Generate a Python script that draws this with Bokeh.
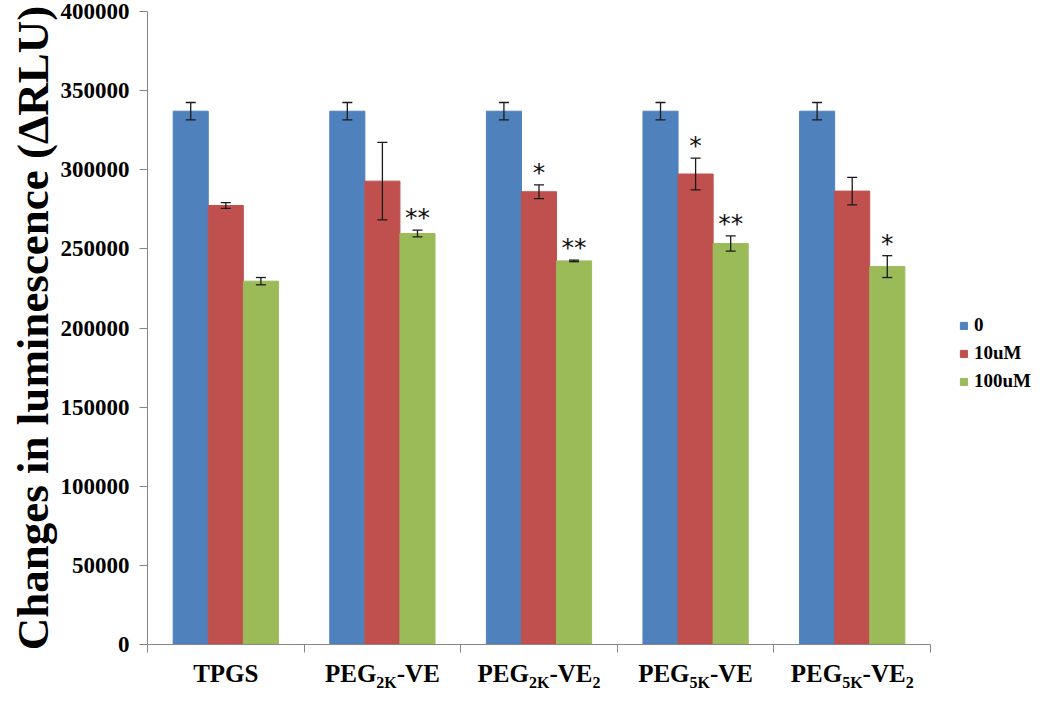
from bokeh.plotting import figure
from bokeh.models import (ColumnDataSource, Range1d, LinearAxis, FixedTicker,
                          Whisker, TeeHead, Legend, LegendItem, BasicTickFormatter)
from bokeh.transform import dodge
from bokeh.core.properties import value
from bokeh.embed import file_html
from bokeh.resources import INLINE

# ---------------- data ----------------
categories = ["TPGS", "PEG2K-VE", "PEG2K-VE2", "PEG5K-VE", "PEG5K-VE2"]
# category label pieces: (text, is_subscript)
label_parts = [
    [("TPGS", 0)],
    [("PEG", 0), ("2K", 1), ("-VE", 0)],
    [("PEG", 0), ("2K", 1), ("-VE", 0), ("2", 1)],
    [("PEG", 0), ("5K", 1), ("-VE", 0)],
    [("PEG", 0), ("5K", 1), ("-VE", 0), ("2", 1)],
]
series_names = ["0", "10uM", "100uM"]
vals_0 = [337000, 337000, 337000, 337000, 337000]
err_0 = [5500, 5500, 5500, 5500, 5500]
vals_10 = [277400, 292800, 286100, 297300, 286500]
err_10 = [1800, 24500, 4300, 10000, 8700]
vals_100 = [229600, 259700, 242400, 253400, 238800]
err_100 = [2300, 2100, 500, 4800, 6900]
sig_0 = ["", "", "", "", ""]
sig_10 = ["", "", "*", "*", ""]
sig_100 = ["", "**", "**", "**", "*"]
y_ticks = [0, 50000, 100000, 150000, 200000, 250000, 300000, 350000, 400000]

colors = ["#4F81BD", "#C0504D", "#9BBB59"]
bar_w = 0.224
offsets = [-bar_w, 0.0, bar_w]
SERIF = "Liberation Serif"
AXIS_GREY = "#868686"
n = len(categories)
cat_pos = [i + 0.5 for i in range(n)]   # category centres on a 0..n axis

W, H = 1034, 693
BL, BT, BB = 147, 11, 40
AXIS_PX = 783                      # pixel length of the category axis
px_per_unit = AXIS_PX / n
x_end = (W - BL) / px_per_unit     # frame runs to the right edge (legend lives there)

p = figure(x_range=Range1d(0, x_end), y_range=Range1d(0, 400000),
           width=W, height=H, output_backend="svg", toolbar_location=None,
           x_axis_location=None,
           min_border_left=BL, min_border_right=0, min_border_top=BT, min_border_bottom=BB)
p.outline_line_color = None
p.xgrid.grid_line_color = None
p.ygrid.grid_line_color = None
p.background_fill_color = "white"

# y axis styling
ya = p.yaxis[0]
ya.ticker = FixedTicker(ticks=y_ticks)
ya.formatter = BasicTickFormatter(use_scientific=False)
ya.axis_line_color = AXIS_GREY
ya.major_tick_line_color = AXIS_GREY
ya.major_tick_in = 0
ya.major_tick_out = 8
ya.minor_tick_line_color = None
ya.major_label_text_font = SERIF
ya.major_label_text_font_style = "bold"
ya.major_label_text_font_size = "23px"
ya.major_label_text_color = "black"
ya.major_label_standoff = 10
ya.axis_label = "Changes in luminescence (\u0394RLU)"
ya.axis_label_text_font = SERIF
ya.axis_label_text_font_style = "bold"
ya.axis_label_text_font_size = "45px"
ya.axis_label_text_color = "black"
ya.axis_label_standoff = 0

# ---- category labels (main text + subscripts) placed as axis tick labels ----
adv = {"P": 0.611, "E": 0.667, "G": 0.778, "T": 0.667, "S": 0.556, "V": 0.722,
       "K": 0.778, "2": 0.5, "5": 0.5, "-": 0.333}
main_fs, sub_fs = 25, 16
main_ticks, main_texts, sub_ticks, sub_texts = [], [], [], []
for i, parts in enumerate(label_parts):
    widths = [sum(adv[c] for c in t) * (sub_fs if s else main_fs) for t, s in parts]
    xo = -sum(widths) / 2.0
    for (t, s), wd in zip(parts, widths):
        pos = round(cat_pos[i] + (xo + wd / 2.0) / px_per_unit, 5)
        if s:
            sub_ticks.append(pos); sub_texts.append(t)
        else:
            main_ticks.append(pos); main_texts.append(t)
        xo += wd

xa = LinearAxis(ticker=FixedTicker(ticks=main_ticks, minor_ticks=list(range(n + 1))),
                bounds=(0, n), axis_label_standoff=0,
                major_label_overrides=dict(zip(main_ticks, main_texts)),
                axis_line_color=AXIS_GREY,
                major_tick_line_color=None, major_tick_in=0, major_tick_out=8,
                minor_tick_line_color=AXIS_GREY, minor_tick_in=0, minor_tick_out=8,
                major_label_standoff=7, major_label_text_font=SERIF,
                major_label_text_font_style="bold", major_label_text_line_height=1.0,
                major_label_text_font_size=f"{main_fs}px", major_label_text_color="black")
p.add_layout(xa, "below")
xs = LinearAxis(ticker=FixedTicker(ticks=sub_ticks, minor_ticks=[]),
                bounds=(0, n), axis_label_standoff=0,
                major_label_overrides=dict(zip(sub_ticks, sub_texts)),
                axis_line_color=None, major_tick_line_color=None, minor_tick_line_color=None,
                major_tick_in=0, major_tick_out=0,
                major_label_standoff=-16, major_label_text_font=SERIF,
                major_label_text_font_style="bold", major_label_text_line_height=1.0,
                major_label_text_font_size=f"{sub_fs}px", major_label_text_color="black")
p.add_layout(xs, "below")

all_vals = [vals_0, vals_10, vals_100]
all_errs = [err_0, err_10, err_100]
all_sigs = [sig_0, sig_10, sig_100]
renderers = []
for k in range(3):
    src = ColumnDataSource(dict(
        cats=categories, pos=cat_pos, val=all_vals[k],
        upper=[v + e for v, e in zip(all_vals[k], all_errs[k])],
        lower=[v - e for v, e in zip(all_vals[k], all_errs[k])],
        sig=all_sigs[k]))
    xd = dodge("pos", offsets[k])
    r = p.vbar(x=xd, top="val", width=bar_w, source=src,
               fill_color=colors[k], line_color=colors[k])
    renderers.append(r)
    w = Whisker(base=xd, upper="upper", lower="lower", source=src,
                line_color="#1a1a1a", line_width=1.3, level="overlay",
                upper_head=TeeHead(size=10, line_color="#1a1a1a", line_width=1.3),
                lower_head=TeeHead(size=10, line_color="#1a1a1a", line_width=1.3))
    p.add_layout(w)
    p.text(x=xd, y="upper", text="sig", source=src, text_align="center",
           text_baseline="bottom", y_offset=2, text_font=value("DejaVu Sans"),
           text_font_size="25px", text_color="#111111")

legend = Legend(items=[LegendItem(label=series_names[k], renderers=[renderers[k]]) for k in range(3)],
                location=(AXIS_PX + 29, 252), orientation="vertical",
                border_line_color=None, background_fill_alpha=0, padding=0, margin=0,
                glyph_width=9, glyph_height=9, label_standoff=6, spacing=6, label_height=22,
                label_text_font=SERIF, label_text_font_style="bold",
                label_text_font_size="19px", label_text_color="black")
p.add_layout(legend)

open("out.html", "w").write(file_html(p, INLINE))
